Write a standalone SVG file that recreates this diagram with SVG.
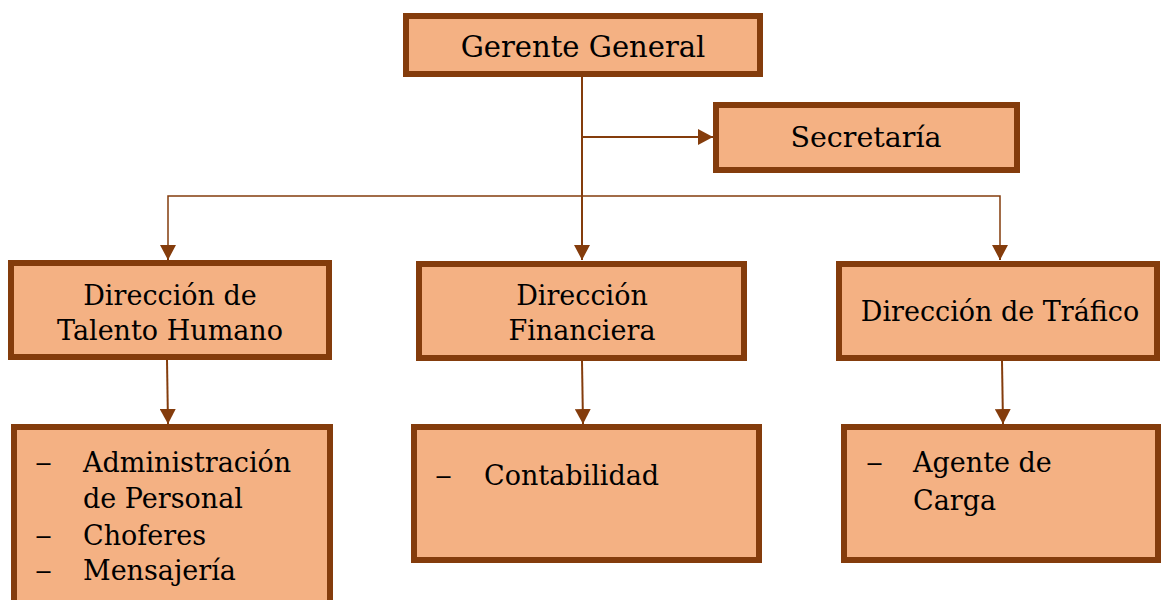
<svg xmlns="http://www.w3.org/2000/svg" width="1161" height="600" viewBox="0 0 1161 600">
<defs>
<style>
.box{fill:#F4B183;stroke:#843C0C;stroke-width:6}
.t{font-family:"DejaVu Serif","Liberation Serif",serif;font-size:27px;fill:#000}
.c{text-anchor:middle}
.ln{fill:none;stroke:#843C0C;stroke-width:2}
.bus{fill:none;stroke:#843C0C;stroke-width:1.5}
</style>
<marker id="ah" markerUnits="userSpaceOnUse" markerWidth="15" markerHeight="16" refX="15" refY="8" orient="auto">
<path d="M0,0 L15,8 L0,16 z" fill="#843C0C"/>
</marker>
</defs>
<rect width="1161" height="600" fill="#fff"/>
<g id="connectors">
<line class="ln" x1="582" y1="77" x2="582" y2="260" marker-end="url(#ah)"/>
<line class="ln" x1="582" y1="137" x2="713" y2="137" marker-end="url(#ah)"/>
<polyline class="bus" points="168,260 168,196 1000,196 1000,260"/>
<line class="ln" x1="168" y1="245" x2="168" y2="260" marker-end="url(#ah)"/>
<line class="ln" x1="1000" y1="245" x2="1000" y2="260" marker-end="url(#ah)"/>
<line class="ln" x1="167" y1="360" x2="168" y2="424" marker-end="url(#ah)"/>
<line class="ln" x1="582" y1="361" x2="583" y2="424" marker-end="url(#ah)"/>
<line class="ln" x1="1002" y1="361" x2="1003" y2="424" marker-end="url(#ah)"/>
</g>
<g id="gerente">
<rect class="box" x="406" y="16" width="354" height="58"/>
<text class="t c" x="583" y="57" style="font-size:29px">Gerente General</text>
</g>
<g id="secretaria">
<rect class="box" x="716" y="105" width="301" height="65"/>
<text class="t c" x="866" y="147" style="font-size:28.5px">Secretaría</text>
</g>
<g id="talento">
<rect class="box" x="11" y="263" width="318" height="94"/>
<text class="t c" x="170" y="305">Dirección de</text>
<text class="t c" x="170" y="340">Talento Humano</text>
</g>
<g id="financiera">
<rect class="box" x="419" y="264" width="325" height="94"/>
<text class="t c" x="582" y="305">Dirección</text>
<text class="t c" x="582" y="340">Financiera</text>
</g>
<g id="trafico">
<rect class="box" x="839" y="264" width="318" height="94"/>
<text class="t c" x="1000" y="321">Dirección de Tráfico</text>
</g>
<g id="talento-sub">
<rect class="box" x="14" y="427" width="316" height="190"/>
<text class="t" x="35" y="472" textLength="17" lengthAdjust="spacingAndGlyphs">–</text>
<text class="t" x="83" y="472">Administración</text>
<text class="t" x="83" y="508">de Personal</text>
<text class="t" x="35" y="545" textLength="17" lengthAdjust="spacingAndGlyphs">–</text>
<text class="t" x="83" y="545">Choferes</text>
<text class="t" x="35" y="580" textLength="17" lengthAdjust="spacingAndGlyphs">–</text>
<text class="t" x="83" y="580">Mensajería</text>
</g>
<g id="financiera-sub">
<rect class="box" x="414" y="427" width="345" height="133"/>
<text class="t" x="435" y="485" textLength="17" lengthAdjust="spacingAndGlyphs">–</text>
<text class="t" x="484" y="485">Contabilidad</text>
</g>
<g id="trafico-sub">
<rect class="box" x="844" y="427" width="314" height="133"/>
<text class="t" x="866" y="472" textLength="17" lengthAdjust="spacingAndGlyphs">–</text>
<text class="t" x="913" y="472">Agente de</text>
<text class="t" x="913" y="510">Carga</text>
</g>
</svg>
